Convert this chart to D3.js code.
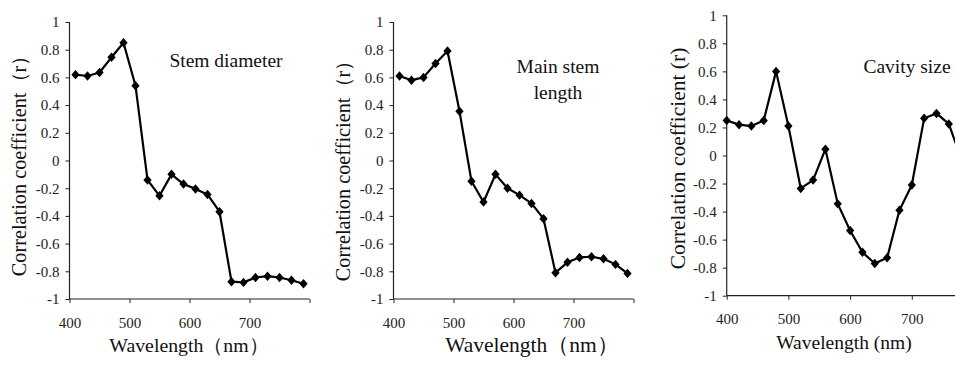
<!DOCTYPE html>
<html>
<head>
<meta charset="utf-8">
<script src="https://cdn.jsdelivr.net/npm/d3@7"></script>
<style>
  body { margin: 0; background: #fff; }
  svg { display: block; }
</style>
</head>
<body>
<svg id="chart" width="955" height="365"></svg>
<script>
// wavelengths (nm)
var wlStem = [410, 430, 450, 470, 490, 510, 530, 550, 570, 590, 610, 630, 650, 670, 690, 710, 730, 750, 770, 790];
var wlCavity = [400, 420, 440, 460, 480, 500, 520, 540, 560, 580, 600, 620, 640, 660, 680, 700, 720, 740, 760, 780];

// correlation coefficients
var stemDiameter = [0.62, 0.61, 0.635, 0.745, 0.85, 0.54, -0.14, -0.255, -0.10, -0.17, -0.205, -0.245, -0.37, -0.875, -0.88, -0.845, -0.835, -0.845, -0.865, -0.89];
var mainStemLength = [0.61, 0.58, 0.60, 0.70, 0.79, 0.355, -0.15, -0.30, -0.10, -0.20, -0.25, -0.31, -0.42, -0.81, -0.735, -0.70, -0.695, -0.71, -0.75, -0.815];
var cavitySize = [0.25, 0.22, 0.21, 0.25, 0.60, 0.21, -0.235, -0.175, 0.045, -0.345, -0.535, -0.69, -0.77, -0.73, -0.39, -0.21, 0.265, 0.30, 0.225, -0.02];

var yTicks = [1, 0.8, 0.6, 0.4, 0.2, 0, -0.2, -0.4, -0.6, -0.8, -1];
var xTicks = [400, 500, 600, 700, 800];
var xTickLabels = ["400", "500", "600", "700", ""];

var serif = "Liberation Serif";

var svg = d3.select("#chart");

var panels = [
  { wl: wlStem, values: stemDiameter, left: 69.5, right: 309.5, top: 22, bottom: 299,
    label: ["Stem diameter"], labelX: 226, labelY: 67,
    yTitle: "Correlation coefficient\uFF08r\uFF09", yTitleX: 18.5, yTitleY: 161, yTitleSize: 20.3,
    xTitle: "Wavelength\uFF08nm\uFF09", xTitleX: 189, xTitleY: 352, xTitleSize: 19.8 },
  { wl: wlStem, values: mainStemLength, left: 393.5, right: 633.5, top: 22, bottom: 299,
    label: ["Main stem", "length"], labelX: 558, labelY: 73,
    yTitle: "Correlation coefficient\uFF08r\uFF09", yTitleX: 343, yTitleY: 166, yTitleSize: 20.3,
    xTitle: "Wavelength\uFF08nm\uFF09", xTitleX: 532, xTitleY: 352, xTitleSize: 21.5 },
  { wl: wlCavity, values: cavitySize, left: 726.7, right: 973.5, top: 15.3, bottom: 295.7,
    label: ["Cavity size"], labelX: 907, labelY: 73,
    yTitle: "Correlation coefficient (r)", yTitleX: 677, yTitleY: 158.5, yTitleSize: 21.5,
    xTitle: "Wavelength (nm)", xTitleX: 844, xTitleY: 349, xTitleSize: 19.5 }
];

panels.forEach(function(p) {
  var x = d3.scaleLinear().domain([400, 800]).range([p.left, p.right]);
  var y = d3.scaleLinear().domain([-1, 1]).range([p.bottom, p.top]);
  var g = svg.append("g");

  var yAxis = g.append("g")
    .attr("transform", "translate(" + p.left + ",0)")
    .call(d3.axisLeft(y).tickValues(yTicks).tickSize(4).tickPadding(6)
      .tickFormat(function(d) { return String(+d.toFixed(1)); }));

  var xAxis = g.append("g")
    .attr("transform", "translate(0," + p.bottom + ")")
    .call(d3.axisBottom(x).tickValues(xTicks).tickSize(4).tickPadding(14)
      .tickFormat(function(d, i) { return xTickLabels[i]; }));

  [yAxis, xAxis].forEach(function(a) {
    a.select(".domain").attr("stroke", "#222").attr("stroke-width", 1.2);
    a.selectAll(".tick line").attr("stroke", "#222").attr("stroke-width", 1);
    a.selectAll("text")
      .style("font-family", serif)
      .style("font-size", "15px")
      .attr("fill", "#222");
  });
  // axisLeft/axisBottom domain paths have outer ticks; flatten them
  yAxis.select(".domain").attr("d", "M0," + p.top + "V" + p.bottom);
  xAxis.select(".domain").attr("d", "M" + p.left + ",0H" + p.right);

  var pts = p.wl.map(function(w, i) { return [w, p.values[i]]; });

  g.append("path")
    .datum(pts)
    .attr("fill", "none")
    .attr("stroke", "#000")
    .attr("stroke-width", 2.2)
    .attr("stroke-linejoin", "round")
    .attr("d", d3.line().x(function(d) { return x(d[0]); }).y(function(d) { return y(d[1]); }));

  var diamond = d3.symbol().type(d3.symbolSquare).size(34);
  g.selectAll("path.pt").data(pts).enter()
    .append("path")
    .attr("class", "pt")
    .attr("fill", "#000")
    .attr("d", diamond)
    .attr("transform", function(d) {
      return "translate(" + x(d[0]) + "," + y(d[1]) + ") scale(1,1.15) rotate(45)";
    });

  var lab = g.append("text")
    .attr("text-anchor", "middle")
    .style("font-family", serif)
    .style("font-size", "19.5px")
    .attr("fill", "#111")
    .attr("x", p.labelX)
    .attr("y", p.labelY);
  p.label.forEach(function(t, i) {
    lab.append("tspan").attr("x", p.labelX).attr("dy", i === 0 ? 0 : 26).text(t);
  });

  g.append("text")
    .attr("text-anchor", "middle")
    .style("font-family", serif)
    .style("font-size", p.yTitleSize + "px")
    .attr("fill", "#111")
    .attr("transform", "translate(" + p.yTitleX + "," + p.yTitleY + ") rotate(-90)")
    .attr("dy", "0.35em")
    .text(p.yTitle);

  g.append("text")
    .attr("text-anchor", "middle")
    .style("font-family", serif)
    .style("font-size", p.xTitleSize + "px")
    .attr("fill", "#111")
    .attr("x", p.xTitleX)
    .attr("y", p.xTitleY)
    .text(p.xTitle);
});
</script>
</body>
</html>
